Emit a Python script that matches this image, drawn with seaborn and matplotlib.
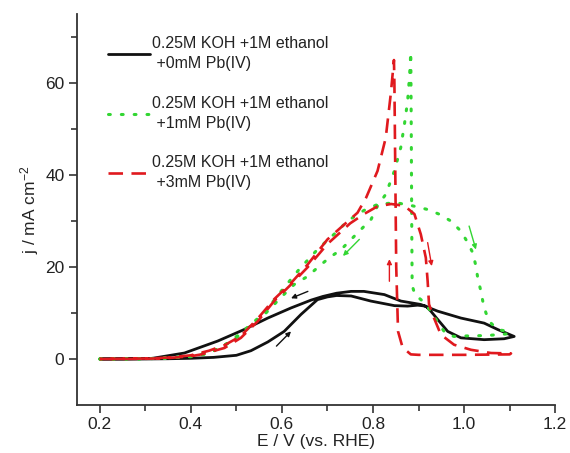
import numpy as np
import pandas as pd
import matplotlib
matplotlib.use("Agg")
import matplotlib.pyplot as plt
import seaborn as sns
from matplotlib.lines import Line2D

# ---------------- data ----------------
# 0 mM Pb(IV): forward then reverse scan
E_0mM = [0.20, 0.25, 0.30, 0.35, 0.40, 0.45, 0.50, 0.532, 0.569, 0.605, 0.642, 0.678, 0.70, 0.72,
         0.752, 0.795, 0.847, 0.876, 0.898, 0.916, 0.927, 0.942, 0.964, 0.993, 1.044, 1.088, 1.11,
         1.074, 1.044, 0.993, 0.942, 0.905, 0.861, 0.825, 0.78, 0.752, 0.72, 0.69, 0.664, 0.62,
         0.569, 0.517, 0.459, 0.386, 0.313, 0.25, 0.20]
j_0mM = [0.0, 0.0, 0.0, 0.05, 0.15, 0.35, 0.8, 1.8, 3.7, 6.0, 9.7, 12.9, 13.5, 13.8,
         13.7, 12.6, 11.6, 11.5, 11.7, 11.5, 10.4, 8.6, 6.0, 4.6, 4.2, 4.4, 4.9,
         6.4, 7.8, 8.9, 10.4, 11.85, 12.6, 14.0, 14.7, 14.7, 14.3, 13.6, 12.8, 11.1,
         8.9, 6.4, 3.9, 1.3, 0.1, 0.02, 0.0]

# 1 mM Pb(IV)
E_1mM = [0.20, 0.30, 0.35, 0.40, 0.43, 0.46, 0.488, 0.52, 0.561, 0.598, 0.638, 0.678, 0.722, 0.744,
         0.78, 0.81, 0.85, 0.887, 0.92, 0.945, 0.971, 0.993, 1.008, 1.019, 1.026, 1.03, 1.037,
         1.041, 1.048, 1.059, 1.074, 1.096, 1.10,
         1.05, 1.00, 0.978, 0.96, 0.945, 0.93, 0.91, 0.892, 0.886, 0.885, 0.884, 0.883,
         0.88, 0.876, 0.869, 0.861, 0.847, 0.828, 0.81, 0.796, 0.774, 0.748, 0.73, 0.704,
         0.682, 0.657, 0.627, 0.60, 0.561, 0.52, 0.488, 0.45, 0.40, 0.30, 0.20]
j_1mM = [0.0, 0.05, 0.2, 0.6, 1.0, 2.2, 3.9, 6.5, 10.0, 14.7, 19.5, 23.8, 27.8, 30.0,
         32.3, 33.6, 34.0, 33.3, 32.5, 31.5, 30.0, 27.8, 25.3, 23.1, 20.2, 17.6, 14.7,
         12.6, 10.0, 7.8, 6.4, 6.0, 5.5,
         5.1, 5.0, 4.9, 5.5, 7.5, 10.0, 12.5, 14.0, 16.0, 30.0, 50.0, 66.7,
         61.2, 56.1, 51.0, 46.0, 40.9, 35.8, 33.3, 30.4, 28.2, 25.6, 23.8, 22.0,
         20.2, 18.0, 16.2, 13.6, 9.6, 6.2, 3.7, 1.8, 0.5, 0.05, 0.0]

# 3 mM Pb(IV)
E_3mM = [0.20, 0.30, 0.35, 0.40, 0.423, 0.474, 0.51, 0.547, 0.583, 0.62, 0.657, 0.70, 0.75, 0.78,
         0.81, 0.84, 0.869, 0.891, 0.905, 0.916, 0.92, 0.923, 0.934, 0.949, 0.978, 1.015, 1.059,
         1.103,
         1.10, 1.00, 0.90, 0.883, 0.865, 0.855, 0.851, 0.849, 0.847, 0.846,
         0.839, 0.828, 0.81, 0.785, 0.766, 0.70, 0.657, 0.62, 0.583, 0.547, 0.51, 0.474,
         0.44, 0.40, 0.35, 0.30, 0.20]
j_3mM = [0.0, 0.05, 0.2, 0.6, 1.0, 2.4, 4.6, 8.2, 12.6, 16.2, 20.0, 25.0, 29.5, 31.5,
         33.2, 33.7, 33.3, 31.5, 27.1, 22.0, 16.9, 11.9, 8.9, 5.3, 3.1, 2.0, 1.3,
         1.2,
         1.0, 0.9, 0.9, 1.0, 2.5, 6.0, 20.0, 40.0, 60.0, 65.0,
         57.6, 48.1, 40.9, 35.1, 31.8, 26.0, 20.6, 16.5, 13.0, 8.8, 5.0, 3.0,
         1.8, 0.8, 0.3, 0.1, 0.0]

labels = ["0.25M KOH +1M ethanol\n +0mM Pb(IV)",
          "0.25M KOH +1M ethanol\n +1mM Pb(IV)",
          "0.25M KOH +1M ethanol\n +3mM Pb(IV)"]

# scan-direction arrows: (x_start, y_start, x_end, y_end)
arrows_0mM = [(0.657, 14.7, 0.62, 13.2), (0.588, 2.8, 0.62, 6.0)]
arrows_1mM = [(1.011, 28.9, 1.026, 23.8), (0.77, 26.0, 0.734, 22.4)]
arrows_3mM = [(0.836, 16.9, 0.836, 21.7), (0.92, 25.3, 0.929, 20.2)]

x_ticks = [0.2, 0.4, 0.6, 0.8, 1.0, 1.2]
y_ticks = [0, 20, 40, 60]

# ---------------- styling ----------------
sns.set_style("ticks")
plt.rcParams['font.family'] = ['Liberation Sans', 'DejaVu Sans']
plt.rcParams['mathtext.fontset'] = 'custom'
plt.rcParams['mathtext.rm'] = 'Liberation Sans'
plt.rcParams['mathtext.it'] = 'Liberation Sans:italic'

black = "#111111"
green = "#33d633"
red = "#e0191e"
spine_c = "#333333"
green_ls = (0, (0.6, 3.6))
red_ls = (0, (5.5, 3.2))

fig = plt.figure(figsize=(5.70, 4.53), dpi=100)
ax = fig.add_axes([0.135, 0.106, 0.839, 0.863])

def frame(E, j):
    return pd.DataFrame({"E": E, "j": j})

sns.lineplot(data=frame(E_0mM, j_0mM), x="E", y="j", sort=False, estimator=None,
             color=black, lw=2.0, ax=ax)
sns.lineplot(data=frame(E_1mM, j_1mM), x="E", y="j", sort=False, estimator=None,
             color=green, lw=2.2, ax=ax, linestyle=green_ls, dash_capstyle="round")
sns.lineplot(data=frame(E_3mM, j_3mM), x="E", y="j", sort=False, estimator=None,
             color=red, lw=1.9, ax=ax, linestyle=red_ls)

for arrs, c in [(arrows_0mM, black), (arrows_1mM, green), (arrows_3mM, red)]:
    for (x0, y0, x1, y1) in arrs:
        ax.annotate("", xy=(x1, y1), xytext=(x0, y0),
                    arrowprops=dict(arrowstyle="-|>", color=c, lw=1.0,
                                    mutation_scale=7, shrinkA=0, shrinkB=0))

ax.set_xlim(0.15, 1.2)
ax.set_ylim(-10, 75)
ax.set_xticks(x_ticks)
ax.set_xticklabels([f"{v:.1f}" for v in x_ticks])
ax.set_yticks(y_ticks)
ax.set_xticks([0.3, 0.5, 0.7, 0.9, 1.1], minor=True)
ax.set_yticks([10, 30, 50, 70], minor=True)

sns.despine(ax=ax)
for s in ["left", "bottom"]:
    ax.spines[s].set_color(spine_c)
    ax.spines[s].set_linewidth(1.3)
ax.tick_params(which="major", direction="out", length=6, width=1.2, color=spine_c,
               labelsize=12.5, labelcolor="#222222", pad=3)
ax.tick_params(which="minor", direction="out", length=4, width=1.2, color=spine_c)

ax.set_xlabel("E / V (vs. RHE)", fontsize=12.5, color="#222222", labelpad=1)
ax.set_ylabel(r"j / mA cm$^{-2}$", fontsize=12.5, color="#222222", labelpad=3)

handles = [Line2D([], [], color=black, lw=2.0),
           Line2D([], [], color=green, lw=2.2, linestyle=green_ls, dash_capstyle="round"),
           Line2D([], [], color=red, lw=1.9, linestyle=red_ls)]
leg = ax.legend(handles, labels, loc="upper left", bbox_to_anchor=(0.035, 0.98),
                frameon=False, fontsize=11.5, handlelength=2.6, handletextpad=0.15,
                labelspacing=1.55)
for t in leg.get_texts():
    t.set_color("#222222")
    t.set_linespacing(1.4)

fig.savefig("out.png", dpi=100, facecolor="white")
